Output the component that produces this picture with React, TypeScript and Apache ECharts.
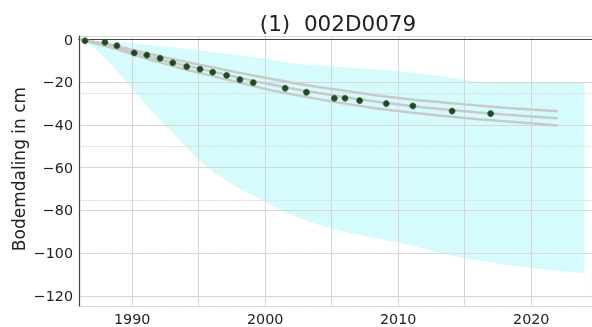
import React, { useEffect, useRef } from "react";
import * as echarts from "echarts";

// Observed subsidence (cm)
const obsYears = [1986.45, 1987.95, 1988.85, 1990.15, 1991.1, 1992.1, 1993.05, 1994.1, 1995.1, 1996.05, 1997.1, 1998.1, 1999.1, 2001.5, 2003.1, 2005.2, 2006.0, 2007.1, 2009.1, 2011.1, 2014.05, 2016.95];
const obsValues = [-0.6, -1.3, -2.9, -6.3, -7.3, -8.8, -10.9, -12.7, -13.9, -15.3, -16.8, -18.8, -20.2, -22.8, -24.7, -27.5, -27.5, -28.6, -30.0, -31.1, -33.5, -34.7];

// Model curves (middle and bounds)
const lineYears = [1986.1, 1988, 1990, 1992, 1994, 1996, 1998, 2000, 2002, 2004, 2006, 2008, 2010, 2012, 2014, 2016, 2018, 2020, 2022];
const lineMiddle = [0, -2.6, -5.8, -9.2, -12.2, -15.0, -17.8, -20.5, -22.9, -25.0, -27.0, -28.8, -30.4, -31.8, -33.0, -34.1, -35.1, -36.0, -36.9];
const lineUpper = [0, -2.1, -4.8, -7.8, -10.4, -13.0, -15.5, -17.9, -20.2, -22.2, -24.0, -25.8, -27.3, -28.7, -29.8, -30.9, -31.9, -32.8, -33.6];
const lineLower = [0, -3.1, -6.8, -10.6, -14.0, -17.0, -20.1, -23.1, -25.6, -27.9, -30.0, -31.9, -33.5, -34.9, -36.2, -37.3, -38.3, -39.2, -40.2];

// Cyan uncertainty band
const bandYears = [1986.1, 1987.5, 1990, 1992, 1994, 1995, 1996.5, 1998, 2000, 2002, 2005, 2008, 2010, 2013, 2015, 2017, 2018, 2020, 2022, 2024];
const bandUpper = [0, -0.8, -1.8, -3.0, -4.3, -5.0, -6.2, -7.5, -9.0, -11.0, -12.5, -13.8, -14.8, -16.8, -18.9, -20, -20, -20, -20, -20];
const bandLower = [0, -6, -23, -37, -50, -56.5, -63.5, -69.5, -76, -82, -88.5, -92.5, -95, -99.5, -102.2, -104.3, -105.3, -106.9, -108.2, -109.3];

const titleText = "(1)  002D0079";
const yAxisTitle = "Bodemdaling in cm";

const FONT = "DejaVu Sans";
const X_MIN = 1986;
const X_MAX = 2024.57;
const Y_MIN = -124.7;
const Y_MAX = 1.64;

export default function App() {
  const ref = useRef<HTMLDivElement>(null);
  useEffect(() => {
    document.body.style.margin = "0";
    const chart = echarts.init(ref.current!, null, { renderer: "svg" });
    const pairs = (xs: number[], ys: number[]) => xs.map((x, i) => [x, ys[i]]);
    const grayLine = (name: string, ys: number[]) => ({
      name,
      type: "line",
      data: pairs(lineYears, ys),
      symbol: "none",
      smooth: 0.3,
      z: 3,
      lineStyle: { color: "#c9c9c9", width: 2.5 },
    });
    const spine = { show: true, lineStyle: { color: "#444", width: 1.2 } };
    chart.setOption({
      animation: false,
      grid: { left: 79, top: 36, right: 0, bottom: 21, show: false },
      xAxis: [
        {
          type: "value",
          min: X_MIN,
          max: X_MAX,
          minInterval: 5,
          maxInterval: 5,
          z: 2,
          axisLine: spine,
          axisTick: { show: false },
          axisLabel: {
            showMinLabel: false,
            showMaxLabel: false,
            margin: 6,
            color: "#222",
            fontFamily: FONT,
            fontSize: 14.3,
            formatter: (v: number) => (Math.abs(v % 10) < 1e-6 ? String(v) : ""),
          },
          splitLine: { show: true, lineStyle: { color: "#d6d6d6", width: 1 } },
        },
        {
          type: "value",
          position: "top",
          min: X_MIN,
          max: X_MAX,
          z: 2,
          axisLine: spine,
          axisTick: { show: false },
          axisLabel: { show: false },
          splitLine: { show: false },
        },
      ],
      yAxis: [
        {
          type: "value",
          min: Y_MIN,
          max: Y_MAX,
          minInterval: 20,
          maxInterval: 20,
          z: 2,
          axisLine: spine,
          axisTick: { show: false },
          axisLabel: {
            showMinLabel: false,
            showMaxLabel: false,
            margin: 6,
            color: "#222",
            fontFamily: FONT,
            fontSize: 14.3,
            formatter: (v: number) => (v < 0 ? "\u2212" + Math.abs(v) : String(v)),
          },
          splitLine: { show: true, lineStyle: { color: "#d6d6d6", width: 1 } },
        },
        {
          type: "value",
          position: "right",
          min: Y_MIN,
          max: Y_MAX,
          minInterval: 25,
          maxInterval: 25,
          z: 2,
          axisLine: { show: false },
          axisTick: { show: false },
          axisLabel: { show: false },
          splitLine: { show: true, lineStyle: { color: "#dcdcdc", width: 1, type: [2, 1] } },
        },
      ],
      graphic: [
        {
          type: "text",
          x: 338,
          y: 23,
          style: {
            text: titleText,
            fill: "#222",
            font: `21.5px '${FONT}'`,
            align: "center",
            verticalAlign: "middle",
          },
        },
        {
          type: "text",
          x: 19,
          y: 169,
          rotation: Math.PI / 2,
          style: {
            text: yAxisTitle,
            fill: "#222",
            font: `17px '${FONT}'`,
            align: "center",
            verticalAlign: "middle",
          },
        },
      ],
      series: [
        {
          name: "bandUpper",
          type: "line",
          data: pairs(bandYears, bandUpper),
          symbol: "none",
          smooth: 0.4,
          z: 1,
          lineStyle: { width: 0, opacity: 0 },
          areaStyle: { color: "#d6fbfd", opacity: 1, origin: "start" },
        },
        {
          name: "bandLower",
          type: "line",
          data: pairs(bandYears, bandLower),
          symbol: "none",
          smooth: 0.4,
          z: 1,
          lineStyle: { width: 0, opacity: 0 },
          areaStyle: { color: "#ffffff", opacity: 1, origin: "start" },
        },
        grayLine("upper", lineUpper),
        grayLine("middle", lineMiddle),
        grayLine("lower", lineLower),
        {
          name: "observed",
          type: "scatter",
          data: pairs(obsYears, obsValues),
          symbol: "circle",
          symbolSize: 6,
          z: 4,
          itemStyle: { color: "#051805", borderColor: "#117711", borderWidth: 1 },
        },
      ],
    });
    return () => chart.dispose();
  }, []);
  return (
    <div
      ref={ref}
      style={{ position: "fixed", left: 0, top: 0, width: 592, height: 327 }}
    />
  );
}
